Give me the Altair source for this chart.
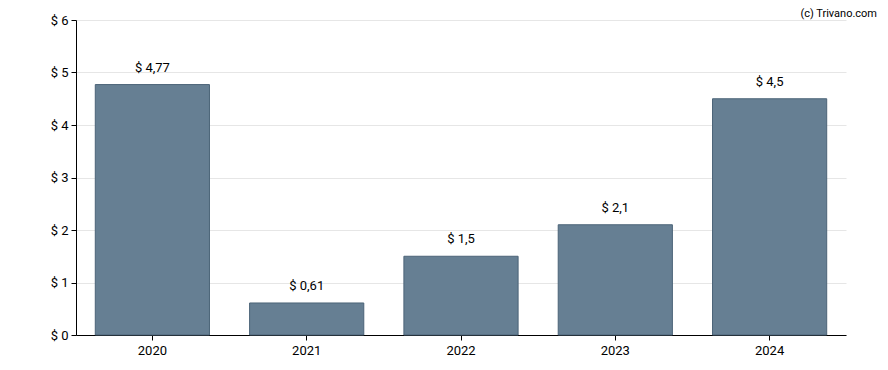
import altair as alt
import pandas as pd

years = ["2020", "2021", "2022", "2023", "2024"]
values = [4.77, 0.61, 1.5, 2.1, 4.5]
labels = ["$ 4,77", "$ 0,61", "$ 1,5", "$ 2,1", "$ 4,5"]

df = pd.DataFrame({"year": years, "value": values, "label": labels})

FONT = "Roboto"

x = alt.X("year:N", title=None,
          scale=alt.Scale(paddingInner=0.26, paddingOuter=0.125),
          axis=alt.Axis(labelAngle=0, domainColor="#000000", tickColor="#000000",
                        tickSize=5, labelFontSize=13, labelColor="#000000",
                        labelFont=FONT, labelPadding=4, grid=False))
y = alt.Y("value:Q", title=None,
          scale=alt.Scale(domain=[0, 6], nice=False),
          axis=alt.Axis(values=[0, 1, 2, 3, 4, 5, 6], labelExpr="'$ ' + datum.value",
                        domainColor="#000000", tickColor="#000000", tickSize=5,
                        labelFontSize=13, labelColor="#000000", labelFont=FONT,
                        gridColor="#e6e6e6", labelPadding=3))

bars = alt.Chart(df).mark_bar(color="#667f93", stroke="#4c6478", strokeWidth=1).encode(x=x, y=y)

text = alt.Chart(df).mark_text(baseline="bottom", dy=-10, fontSize=13, font=FONT,
                               color="#000000").encode(x=x, y=y, text="label:N")

credit = alt.Chart(pd.DataFrame({"t": ["(c) Trivano.com"]})).mark_text(
    align="right", baseline="top", fontSize=11, font=FONT, color="#000000"
).encode(x=alt.value(801), y=alt.value(-12), text="t:N")

chart = alt.layer(bars, text, credit).properties(
    width=770, height=315,
    autosize=alt.AutoSizeParams(type="none"),
    padding={"left": 68, "top": 12, "right": 34, "bottom": 25},
).configure_view(stroke=None)

chart.save("out.html", embed_options={"renderer": "svg", "actions": False})
